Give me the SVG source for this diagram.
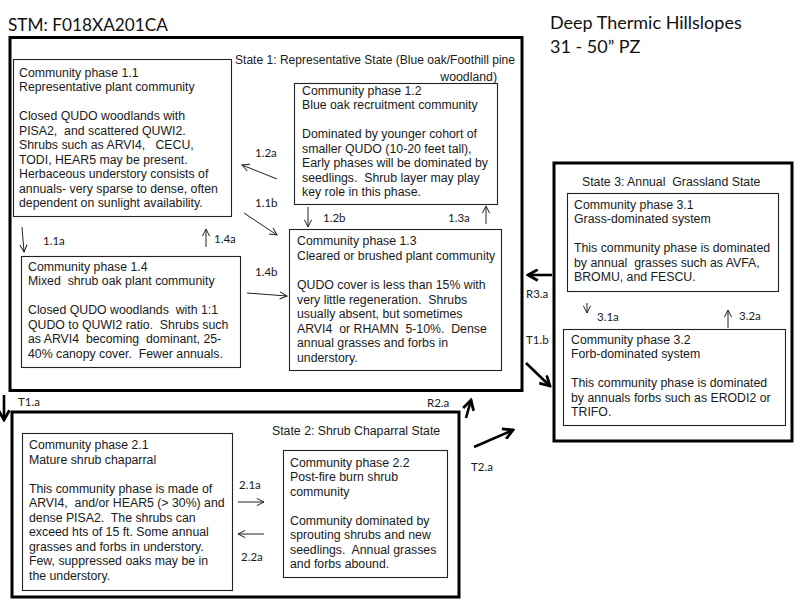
<svg xmlns="http://www.w3.org/2000/svg" width="800" height="600" viewBox="0 0 800 600" xml:space="preserve">
<style>
.bg{fill:#fff}
.state{fill:none;stroke:#000;stroke-width:3}
.phase{fill:#fff;stroke:#222;stroke-width:1.1}
.t{font-family:"Liberation Sans",Arial,sans-serif;font-size:12.3px;fill:#1a1a1a;white-space:pre}
.lbl{font-family:Lato,"Open Sans",sans-serif;font-size:11.5px;fill:#1a1a1a}
.title{font-family:Lato,"Open Sans",sans-serif;font-size:18px;fill:#111}
.thin{stroke:#222;stroke-width:1;fill:none;marker-end:url(#ah)}
.thick{stroke:#000;stroke-width:2.6;fill:none;marker-end:url(#ahb)}
</style>
<defs>
<marker id="ah" markerUnits="userSpaceOnUse" viewBox="0 0 10 10" refX="9" refY="5" markerWidth="9" markerHeight="9" orient="auto">
<path d="M1,1 L9,5 L1,9" fill="none" stroke="#222" stroke-width="1.1"/>
</marker>
<marker id="ahb" markerUnits="userSpaceOnUse" viewBox="0 0 12 12" refX="10.5" refY="6" markerWidth="13" markerHeight="13" orient="auto">
<path d="M1.5,1 L10.5,6 L1.5,11" fill="none" stroke="#000" stroke-width="2.6" stroke-linejoin="miter"/>
</marker>
</defs>
<rect class="bg" x="0" y="0" width="800" height="600"/>

<text class="title" x="8" y="31" textLength="160" lengthAdjust="spacingAndGlyphs">STM: F018XA201CA</text>
<text class="title" x="550" y="29">Deep Thermic Hillslopes</text>
<text class="title" x="550" y="53">31 - 50” PZ</text>

<g id="state1">
<rect class="state" x="10" y="37.5" width="512" height="353"/>
<text class="t" x="235" y="64" textLength="280" lengthAdjust="spacingAndGlyphs">State 1: Representative State (Blue oak/Foothill pine</text>
<text class="t" x="497" y="81" text-anchor="end">woodland)</text>
</g>
<g id="state2">
<rect class="state" x="12" y="412" width="447" height="185"/>
<text class="t" x="272" y="435">State 2: Shrub Chaparral State</text>
</g>
<g id="state3">
<rect class="state" x="554" y="163" width="238" height="278"/>
<text class="t" x="582" y="186">State 3: Annual  Grassland State</text>
</g>

<g id="phase11">
<rect class="phase" x="13.5" y="59.5" width="218" height="157"/>
<text class="t" x="19" y="76.5">Community phase 1.1</text>
<text class="t" x="19" y="91">Representative plant community</text>
<text class="t" x="19" y="120">Closed QUDO woodlands with</text>
<text class="t" x="19" y="134.5">PISA2,  and scattered QUWI2.</text>
<text class="t" x="19" y="149">Shrubs such as ARVI4,   CECU,</text>
<text class="t" x="19" y="163.5">TODI, HEAR5 may be present.</text>
<text class="t" x="19" y="178">Herbaceous understory consists of</text>
<text class="t" x="19" y="192.5">annuals- very sparse to dense, often</text>
<text class="t" x="19" y="207">dependent on sunlight availability.</text>
</g>

<g id="phase12">
<rect class="phase" x="294.5" y="83.5" width="203" height="121"/>
<text class="t" x="302" y="94.5">Community phase 1.2</text>
<text class="t" x="302" y="109">Blue oak recruitment community</text>
<text class="t" x="302" y="138">Dominated by younger cohort of</text>
<text class="t" x="302" y="152.5">smaller QUDO (10-20 feet tall),</text>
<text class="t" x="302" y="167">Early phases will be dominated by</text>
<text class="t" x="302" y="181.5">seedlings.  Shrub layer may play</text>
<text class="t" x="302" y="196">key role in this phase.</text>
</g>

<g id="phase13">
<rect class="phase" x="289.5" y="229.5" width="212" height="141"/>
<text class="t" x="297" y="245">Community phase 1.3</text>
<text class="t" x="297" y="260">Cleared or brushed plant community</text>
<text class="t" x="297" y="289">QUDO cover is less than 15% with</text>
<text class="t" x="297" y="303.5">very little regeneration.  Shrubs</text>
<text class="t" x="297" y="318">usually absent, but sometimes</text>
<text class="t" x="297" y="332.5">ARVI4  or RHAMN  5-10%.  Dense</text>
<text class="t" x="297" y="347">annual grasses and forbs in</text>
<text class="t" x="297" y="361.5">understory.</text>
</g>

<g id="phase14">
<rect class="phase" x="21.5" y="256.5" width="219" height="111"/>
<text class="t" x="28" y="270.5">Community phase 1.4</text>
<text class="t" x="28" y="285">Mixed  shrub oak plant community</text>
<text class="t" x="28" y="314">Closed QUDO woodlands  with 1:1</text>
<text class="t" x="28" y="328.5">QUDO to QUWI2 ratio.  Shrubs such</text>
<text class="t" x="28" y="343">as ARVI4  becoming  dominant, 25-</text>
<text class="t" x="28" y="357.5">40% canopy cover.  Fewer annuals.</text>
</g>

<g id="phase21">
<rect class="phase" x="22.5" y="433.5" width="210" height="157"/>
<text class="t" x="29" y="449">Community phase 2.1</text>
<text class="t" x="29" y="463.5">Mature shrub chaparral</text>
<text class="t" x="29" y="492.5">This community phase is made of</text>
<text class="t" x="29" y="507">ARVI4,  and/or HEAR5 (&gt; 30%) and</text>
<text class="t" x="29" y="521.5">dense PISA2.  The shrubs can</text>
<text class="t" x="29" y="536">exceed hts of 15 ft. Some annual</text>
<text class="t" x="29" y="550.5">grasses and forbs in understory.</text>
<text class="t" x="29" y="565">Few, suppressed oaks may be in</text>
<text class="t" x="29" y="579.5">the understory.</text>
</g>

<g id="phase22">
<rect class="phase" x="283.5" y="450.5" width="164" height="127"/>
<text class="t" x="290" y="466.5">Community phase 2.2</text>
<text class="t" x="290" y="481">Post-fire burn shrub</text>
<text class="t" x="290" y="495.5">community</text>
<text class="t" x="290" y="524.5">Community dominated by</text>
<text class="t" x="290" y="539">sprouting shrubs and new</text>
<text class="t" x="290" y="553.5">seedlings.  Annual grasses</text>
<text class="t" x="290" y="568">and forbs abound.</text>
</g>

<g id="phase31">
<rect class="phase" x="567.5" y="193.5" width="211" height="98"/>
<text class="t" x="574" y="208.5">Community phase 3.1</text>
<text class="t" x="574" y="223">Grass-dominated system</text>
<text class="t" x="574" y="252">This community phase is dominated</text>
<text class="t" x="574" y="266.5">by annual  grasses such as AVFA,</text>
<text class="t" x="574" y="281">BROMU, and FESCU.</text>
</g>

<g id="phase32">
<rect class="phase" x="563.5" y="329.5" width="222" height="96"/>
<text class="t" x="571" y="343.5">Community phase 3.2</text>
<text class="t" x="571" y="358">Forb-dominated system</text>
<text class="t" x="571" y="387">This community phase is dominated</text>
<text class="t" x="571" y="401.5">by annuals forbs such as ERODI2 or</text>
<text class="t" x="571" y="416">TRIFO.</text>
</g>

<g id="connectors">
<line class="thin" x1="277" y1="179" x2="242" y2="165"/>
<line class="thin" x1="244" y1="213" x2="277" y2="235"/>
<line class="thin" x1="308" y1="207" x2="308" y2="227"/>
<line class="thin" x1="486" y1="224" x2="486" y2="206"/>
<line class="thin" x1="22" y1="227" x2="24" y2="252"/>
<line class="thin" x1="206" y1="247" x2="206" y2="229"/>
<line class="thin" x1="247" y1="293" x2="287" y2="296"/>
<line class="thin" x1="238" y1="502" x2="264" y2="502"/>
<line class="thin" x1="264" y1="534" x2="238" y2="534"/>
<line class="thin" x1="587" y1="303" x2="587" y2="313"/>
<line class="thin" x1="728" y1="328" x2="728" y2="310"/>
<line class="thick" x1="552" y1="275" x2="528" y2="275"/>
<line class="thick" x1="526" y1="363" x2="550" y2="386"/>
<line class="thick" x1="4" y1="395" x2="4" y2="420"/>
<line class="thick" x1="466" y1="418" x2="471" y2="400"/>
<line class="thick" x1="474" y1="447" x2="513" y2="430"/>
<text class="lbl" x="255" y="157">1.2a</text>
<text class="lbl" x="255" y="207">1.1b</text>
<text class="lbl" x="323" y="222">1.2b</text>
<text class="lbl" x="448" y="222">1.3a</text>
<text class="lbl" x="43" y="245">1.1a</text>
<text class="lbl" x="214" y="243">1.4a</text>
<text class="lbl" x="255" y="276">1.4b</text>
<text class="lbl" x="239" y="489">2.1a</text>
<text class="lbl" x="241" y="561">2.2a</text>
<text class="lbl" x="597" y="321">3.1a</text>
<text class="lbl" x="739" y="320">3.2a</text>
<text class="lbl" x="526" y="298">R3.a</text>
<text class="lbl" x="526" y="344">T1.b</text>
<text class="lbl" x="18" y="406">T1.a</text>
<text class="lbl" x="427" y="407">R2.a</text>
<text class="lbl" x="471" y="471">T2.a</text>
</g>
</svg>
